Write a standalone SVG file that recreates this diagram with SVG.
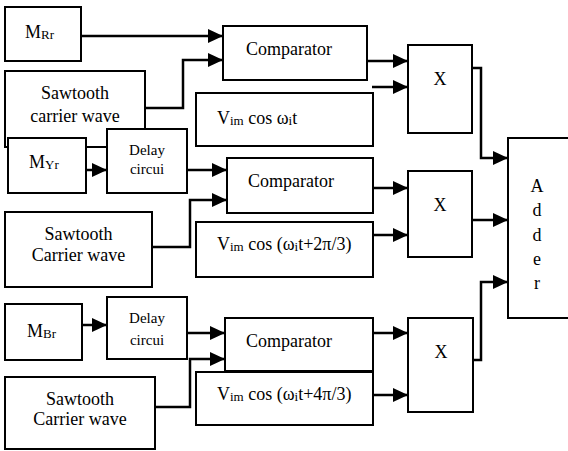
<svg xmlns="http://www.w3.org/2000/svg" width="568" height="451" viewBox="0 0 568 451">
<style>
.box{fill:#fff;stroke:#000;stroke-width:2}
.t{font-family:"Liberation Serif","Times New Roman",serif;font-size:18px;fill:#000}
.s{font-size:15px}
.sub{font-size:13px}
.c{fill:none;stroke:#000;stroke-width:2.5;marker-end:url(#ah)}
</style>
<defs>
<marker id="ah" markerUnits="userSpaceOnUse" markerWidth="16" markerHeight="14" refX="15" refY="7" orient="auto">
<path d="M0,0 L15,7 L0,14 Z" fill="#000"/>
</marker>
</defs>
<rect width="568" height="451" fill="#fff"/>
<g id="saw1"><rect class="box" x="5" y="71" width="140" height="76"/><text class="t" x="75" y="99" text-anchor="middle">Sawtooth</text><text class="t" x="75" y="122" text-anchor="middle">carrier wave</text></g>
<g id="mrr"><rect class="box" x="5" y="7" width="76" height="54"/><text class="t" x="25" y="38">M<tspan class="sub" dy="1">Rr</tspan></text></g>
<g id="myr"><rect class="box" x="8" y="138" width="78" height="55"/><text class="t" x="29" y="168">M<tspan class="sub" dy="1">Yr</tspan></text></g>
<g id="delay1"><rect class="box" x="107" y="129" width="80" height="64"/><text class="t s" x="147" y="155" text-anchor="middle">Delay</text><text class="t s" x="147" y="174" text-anchor="middle">circui</text></g>
<g id="comp1"><rect class="box" x="223" y="26" width="144" height="54"/><text class="t" x="246" y="55">Comparator</text></g>
<g id="v1"><rect class="box" x="196" y="93" width="177" height="53"/><text class="t" x="217" y="124">V<tspan class="sub" dy="1">im</tspan><tspan dy="-1"> cos ω</tspan><tspan class="sub" dy="1">i</tspan><tspan dy="-1">t</tspan></text></g>
<g id="x1"><rect class="box" x="408" y="45" width="64" height="88"/><text class="t" x="440" y="85" text-anchor="middle">X</text></g>
<g id="saw2"><rect class="box" x="5" y="212" width="147" height="75"/><text class="t" x="78.5" y="240" text-anchor="middle">Sawtooth</text><text class="t" x="78.5" y="261" text-anchor="middle">Carrier wave</text></g>
<g id="comp2"><rect class="box" x="227" y="158" width="146" height="55"/><text class="t" x="248" y="187">Comparator</text></g>
<g id="v2"><rect class="box" x="196" y="222" width="177" height="55"/><text class="t" x="217" y="250">V<tspan class="sub" dy="1">im</tspan><tspan dy="-1"> cos (ω</tspan><tspan class="sub" dy="1">i</tspan><tspan dy="-1">t+2π/3)</tspan></text></g>
<g id="x2"><rect class="box" x="408" y="171" width="64" height="86"/><text class="t" x="440" y="211" text-anchor="middle">X</text></g>
<g id="mbr"><rect class="box" x="5" y="304" width="77" height="56"/><text class="t" x="27" y="337">M<tspan class="sub" dy="1">Br</tspan></text></g>
<g id="delay3"><rect class="box" x="107" y="297" width="80" height="62"/><text class="t s" x="147" y="323" text-anchor="middle">Delay</text><text class="t s" x="147" y="345" text-anchor="middle">circui</text></g>
<g id="saw3"><rect class="box" x="5" y="377" width="150" height="72"/><text class="t" x="80" y="405" text-anchor="middle">Sawtooth</text><text class="t" x="80" y="425" text-anchor="middle">Carrier wave</text></g>
<g id="comp3"><rect class="box" x="225" y="318" width="148" height="53"/><text class="t" x="246" y="347">Comparator</text></g>
<g id="v3"><rect class="box" x="196" y="372" width="177" height="53"/><text class="t" x="217" y="400">V<tspan class="sub" dy="1">im</tspan><tspan dy="-1"> cos (ω</tspan><tspan class="sub" dy="1">i</tspan><tspan dy="-1">t+4π/3)</tspan></text></g>
<g id="x3"><rect class="box" x="408" y="318" width="65" height="94"/><text class="t" x="441" y="358" text-anchor="middle">X</text></g>
<g id="adder"><rect class="box" x="508" y="138" width="64" height="180"/><text class="t" x="537" y="192" text-anchor="middle">A</text><text class="t" x="537" y="216" text-anchor="middle">d</text><text class="t" x="537" y="241" text-anchor="middle">d</text><text class="t" x="537" y="265" text-anchor="middle">e</text><text class="t" x="537" y="289" text-anchor="middle">r</text></g>
<g id="connectors">
<path class="c" d="M81,36 H223"/>
<path class="c" d="M145,108 H183 V60 H223"/>
<path class="c" d="M367,61 H408"/>
<path class="c" d="M372,87 H408"/>
<path class="c" d="M472,68 H481 V158 H508"/>
<path class="c" d="M86,170 H107"/>
<path class="c" d="M187,170 H227"/>
<path class="c" d="M152,247 H190 V200 H227"/>
<path class="c" d="M373,188 H408"/>
<path class="c" d="M373,235 H408"/>
<path class="c" d="M472,220 H508"/>
<path class="c" d="M82,325 H107"/>
<path class="c" d="M187,333 H225"/>
<path class="c" d="M155,407 H190 V359 H225"/>
<path class="c" d="M373,333 H408"/>
<path class="c" d="M373,395 H408"/>
<path class="c" d="M473,360 H481 V282 H508"/>
</g>
</svg>
